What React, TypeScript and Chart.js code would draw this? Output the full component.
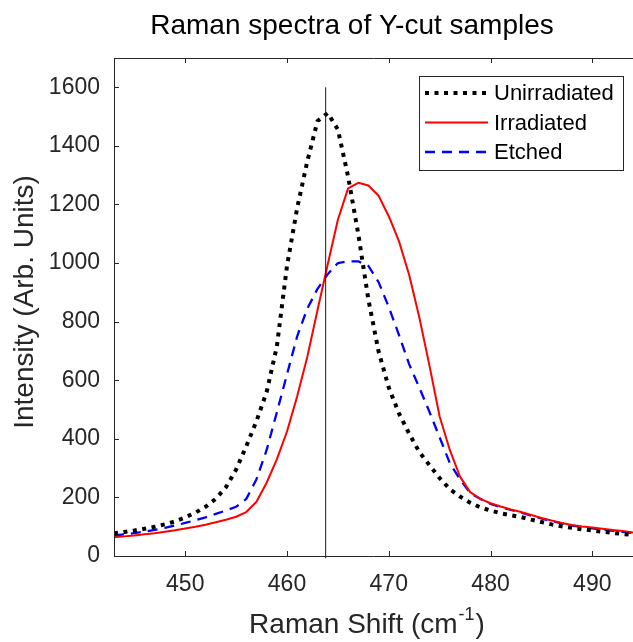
import React, { useEffect, useRef } from "react";
import { Chart, registerables } from "chart.js";

Chart.register(...registerables);

// ---------- data ----------
const ramanShift = [
  443, 444, 445, 446, 447, 448, 449, 450, 451, 452, 453, 454, 455, 456, 457, 458, 459,
  460, 461, 462, 463, 464, 465, 466, 467, 468, 469, 470, 471, 472, 473, 474, 475, 476,
  477, 478, 479, 480, 481, 482, 483, 484, 485, 486, 487, 488, 489, 490, 491, 492, 493, 494,
];
const unirradiated = [
  78, 82, 87, 93, 100, 108, 118, 132, 148, 168, 195, 235, 295, 375, 460, 560, 715,
  990, 1188, 1348, 1485, 1512, 1456, 1296, 1100, 875, 698, 575, 487, 418, 355, 310, 266, 228,
  203, 182, 166, 155, 146, 139, 133, 124, 116, 108, 101, 96, 91, 87, 83, 79, 75, 72,
];
const irradiated = [
  64, 67, 70, 74, 78, 83, 88, 94, 100, 107, 115, 124, 134, 150, 185, 250, 330,
  425, 545, 680, 840, 995, 1148, 1255, 1274, 1265, 1230, 1160, 1075, 960, 815, 650, 476, 362,
  271, 218, 195, 180, 169, 159, 150, 140, 130, 121, 113, 106, 101, 97, 93, 89, 85, 80,
];
const etched = [
  70, 74, 78, 83, 89, 96, 104, 113, 122, 132, 144, 155, 168, 195, 262, 362, 490,
  620, 750, 845, 912, 962, 1000, 1006, 1006, 990, 935, 850, 755, 655, 575, 492, 405, 317,
  262, 215, 195, 178, 167, 157, 148, 138, 128, 119, 111, 104, 99, 94, 90, 86, 82, 78,
];
const referenceLineX = [463.8, 463.8];
const referenceLineY = [-8, 1600];
const seriesLabels = ["Unirradiated", "Irradiated", "Etched"];
const xTicks = [450, 460, 470, 480, 490];
const yTicks = [0, 200, 400, 600, 800, 1000, 1200, 1400, 1600];
const xRange = [443, 494];
const yRange = [0, 1700];
const chartTitle = "Raman spectra of Y-cut samples";
const xTitleMain = "Raman Shift (cm";
const xTitleSup = "-1";
const xTitleEnd = ")";
const yTitle = "Intensity (Arb. Units)";

// ---------- styles ----------
const FONT = "'Liberation Sans', Arial, Helvetica, sans-serif";
const AXIS_COLOR = "#262626";
const seriesStyles = [
  { color: "#000000", width: 4, dash: [4, 5.5] },
  { color: "#ff0000", width: 2, dash: [] as number[] },
  { color: "#0000ff", width: 2.3, dash: [10, 7] },
];

const decorPlugin = {
  id: "decor",
  afterDraw(chart: any) {
    const { ctx, chartArea: a, scales } = chart;
    const xs = scales.x;
    const ys = scales.y;
    ctx.save();
    ctx.strokeStyle = AXIS_COLOR;
    ctx.lineWidth = 1;
    ctx.setLineDash([]);
    ctx.beginPath();
    ctx.moveTo(a.left + 0.5, a.top);
    ctx.lineTo(a.left + 0.5, a.bottom + 0.5);
    ctx.moveTo(a.left, a.bottom + 0.5);
    ctx.lineTo(a.right, a.bottom + 0.5);
    ctx.moveTo(a.left, a.top + 0.5);
    ctx.lineTo(a.right, a.top + 0.5);
    const tl = 5;
    xTicks.forEach((v) => {
      const px = Math.round(xs.getPixelForValue(v)) + 0.5;
      ctx.moveTo(px, a.bottom);
      ctx.lineTo(px, a.bottom - tl);
      ctx.moveTo(px, a.top);
      ctx.lineTo(px, a.top + tl);
    });
    yTicks.forEach((v) => {
      const py = Math.round(ys.getPixelForValue(v)) + 0.5;
      ctx.moveTo(a.left, py);
      ctx.lineTo(a.left + tl, py);
    });
    ctx.stroke();

    // title
    ctx.fillStyle = "#000000";
    ctx.font = `28px ${FONT}`;
    ctx.textAlign = "center";
    ctx.textBaseline = "alphabetic";
    ctx.fillText(chartTitle, 352, 34);

    // x title with superscript
    ctx.fillStyle = AXIS_COLOR;
    const mainFont = `28px ${FONT}`;
    const supFont = `18px ${FONT}`;
    ctx.font = mainFont;
    const w1 = ctx.measureText(xTitleMain).width;
    const w3 = ctx.measureText(xTitleEnd).width;
    ctx.font = supFont;
    const w2 = ctx.measureText(xTitleSup).width;
    const total = w1 + w2 + w3;
    const cx = 366;
    const x0 = cx - total / 2;
    const base = 633;
    ctx.textAlign = "left";
    ctx.font = mainFont;
    ctx.fillText(xTitleMain, x0, base);
    ctx.font = supFont;
    ctx.fillText(xTitleSup, x0 + w1 + 1, base - 13);
    ctx.font = mainFont;
    ctx.fillText(xTitleEnd, x0 + w1 + w2 + 2, base);

    // y title
    ctx.save();
    ctx.translate(25, 302);
    ctx.rotate(-Math.PI / 2);
    ctx.textAlign = "center";
    ctx.textBaseline = "middle";
    ctx.font = `28px ${FONT}`;
    ctx.fillText(yTitle, 0, 0);
    ctx.restore();

    // legend
    const bx = a.right - 214;
    const by = a.top + 18;
    const bw = 204;
    const bh = 94;
    ctx.fillStyle = "#ffffff";
    ctx.fillRect(bx, by, bw, bh);
    ctx.strokeStyle = AXIS_COLOR;
    ctx.lineWidth = 1;
    ctx.strokeRect(bx + 0.5, by + 0.5, bw, bh);
    const rowH = 29.5;
    seriesLabels.forEach((label, i) => {
      const st = seriesStyles[i];
      const y = by + 17 + i * rowH;
      ctx.strokeStyle = st.color;
      ctx.lineWidth = st.width;
      ctx.setLineDash(st.dash);
      ctx.beginPath();
      ctx.moveTo(bx + 6, y);
      ctx.lineTo(bx + 69, y);
      ctx.stroke();
      ctx.setLineDash([]);
      ctx.fillStyle = "#000000";
      ctx.font = `22px ${FONT}`;
      ctx.textAlign = "left";
      ctx.textBaseline = "middle";
      ctx.fillText(label, bx + 75, y + 1);
    });
    ctx.restore();
  },
};

export default function App() {
  const ref = useRef<HTMLCanvasElement | null>(null);

  useEffect(() => {
    if (!ref.current) return;
    const series = [unirradiated, irradiated, etched];
    const datasets: any[] = series.map((vals, i) => ({
      label: seriesLabels[i],
      data: ramanShift.map((x, j) => ({ x, y: vals[j] })),
      borderColor: seriesStyles[i].color,
      borderWidth: seriesStyles[i].width,
      borderDash: seriesStyles[i].dash,
      borderCapStyle: "butt",
      borderJoinStyle: "round",
      pointRadius: 0,
      tension: 0,
      fill: false,
      order: i + 1,
    }));
    datasets.push({
      label: "reference",
      data: referenceLineX.map((x, j) => ({ x, y: referenceLineY[j] })),
      borderColor: "#1a1a1a",
      borderWidth: 1,
      pointRadius: 0,
      fill: false,
      clip: false,
      order: 0,
    });

    const chart = new Chart(ref.current, {
      type: "line",
      data: { datasets },
      options: {
        animation: false,
        responsive: false,
        devicePixelRatio: 1,
        layout: { padding: { top: 58, right: 0, bottom: 0, left: 0 } },
        plugins: {
          legend: { display: false },
          title: { display: false },
          tooltip: { enabled: false },
        },
        scales: {
          x: {
            type: "linear",
            min: xRange[0],
            max: xRange[1],
            afterBuildTicks: (s: any) => {
              s.ticks = xTicks.map((v) => ({ value: v }));
            },
            afterFit: (s: any) => {
              s.height = 86;
            },
            grid: { display: false, drawTicks: false },
            border: { display: false },
            ticks: {
              padding: 15,
              color: AXIS_COLOR,
              font: { family: FONT, size: 23 },
              maxRotation: 0,
              callback: (v: any) => String(v),
            },
          },
          y: {
            type: "linear",
            min: yRange[0],
            max: yRange[1],
            afterBuildTicks: (s: any) => {
              s.ticks = yTicks.map((v) => ({ value: v }));
            },
            afterFit: (s: any) => {
              s.width = 114;
            },
            grid: { display: false, drawTicks: false },
            border: { display: false },
            ticks: {
              padding: 14,
              color: AXIS_COLOR,
              font: { family: FONT, size: 23 },
              callback: (v: any) => String(v),
            },
          },
        },
      },
      plugins: [decorPlugin],
    });
    return () => chart.destroy();
  }, []);

  return (
    <div style={{ position: "absolute", left: 0, top: 0, width: 633, height: 642, background: "#fff" }}>
      <canvas ref={ref} width={633} height={642} style={{ display: "block" }} />
    </div>
  );
}
